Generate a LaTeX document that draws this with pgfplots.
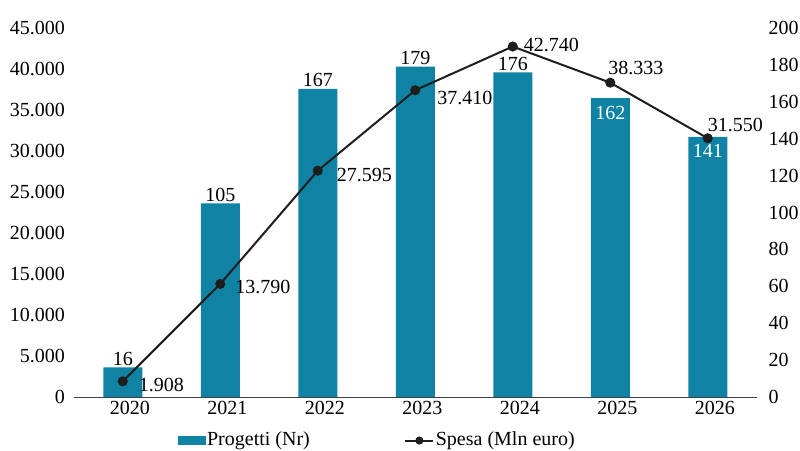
\documentclass[border=0pt]{standalone}
\usepackage{pgfplots}
\pgfplotsset{compat=1.18}
\usepackage{pgfplotstable}
\usepackage{fontspec}
\setmainfont{Liberation Serif}
\definecolor{barblue}{RGB}{16,130,164}
\definecolor{linedark}{RGB}{30,30,30}

% Progetti (Nr): label offset and white share per bar
\pgfplotstableread{
x n dy w
0 16 2 0
1 105 2 0
2 167 2 0
3 179 2 0
4 176 2 0
5 162 -21 100
6 141 -21 100
}\progetti

% Spesa (Mln euro): label offsets per point
\pgfplotstableread{
x spesa dx dy
0 1908 15 -10
1 13790 14 -10
2 27595 18 -11
3 37410 21 -14
4 42740 10 -5
5 38333 -3 8
6 31550 -1 7
}\spesa

\pgfplotsset{
  base/.style={
    scale only axis, width=682.5bp, height=369bp,
    xmin=-0.5, xmax=6.5, ymin=0,
    xtick={0,...,6},
    major tick length=0pt,
    scaled y ticks=false,
    /pgf/number format/assume math mode=true,
    /pgf/number format/.cd, 1000 sep={.},
  },
}

\begin{document}
\fontsize{20bp}{24bp}\selectfont
\begin{tikzpicture}
\begin{axis}[base,
  ymax=200, ytick={0,20,...,200},
  axis x line*=bottom, axis y line*=right,
  y axis line style={draw=none},
  x axis line style={draw=black!75, line width=0.8bp, -},
  xticklabels={2020,2021,2022,2023,2024,2025,2026},
  xticklabel style={inner sep=0pt, yshift=-4bp, xshift=7bp},
  yticklabel style={inner sep=0pt, anchor=west, xshift=12bp},
  ybar, bar width=39bp,
  nodes near coords,
  visualization depends on={\thisrow{dy} \as \dy},
  visualization depends on={\thisrow{w} \as \wpct},
  nodes near coords style={anchor=base, inner sep=0pt, yshift=\dy bp, text=white!\wpct!black},
]
\addplot[fill=barblue, draw=none] table[x=x, y=n] {\progetti};
\end{axis}

\begin{axis}[base, name=a2,
  ymax=45000, ytick={0,5000,...,45000},
  axis y line*=left, axis x line=none,
  y axis line style={draw=none},
  yticklabel style={inner sep=0pt, anchor=east, xshift=-9bp},
  legend columns=2,
  legend style={draw=none, fill=none, inner sep=0pt,
    at={(axis description cs:0.1524,-0.0905)}, anchor=north west,
    /tikz/every even column/.append style={column sep=93bp},
    nodes={inner sep=1.5bp}},
  legend cell align=left,
  nodes near coords,
  visualization depends on={\thisrow{dx} \as \dx},
  visualization depends on={\thisrow{dy} \as \dy},
  nodes near coords style={anchor=base west, inner sep=0pt, xshift=\dx bp, yshift=\dy bp, text=black},
]
\addlegendimage{legend image code/.code={\fill[barblue] (0bp,-4bp) rectangle (27bp,4bp);}}
\addlegendentry{Progetti (Nr)}
\addplot[linedark, line width=2bp, mark=*, mark size=4bp,
  legend image code/.code={\draw[linedark, line width=2bp] (0bp,0bp) -- (28bp,0bp);
    \fill[linedark] (14bp,0bp) circle (3bp);}]
  table[x=x, y=spesa] {\spesa};
\addlegendentry{Spesa (Mln euro)}
\end{axis}
\pgfresetboundingbox
\path ([shift={(-74bp,-54bp)}]a2.south west) rectangle ([shift={(43.5bp,28bp)}]a2.north east);
\end{tikzpicture}
\end{document}
